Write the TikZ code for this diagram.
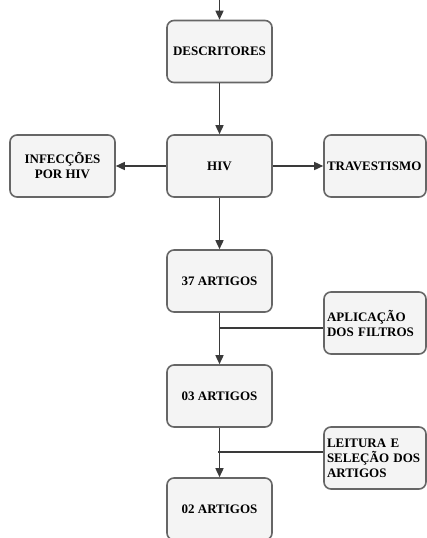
\documentclass[tikz,border=0pt]{standalone}
\usepackage{fontspec}
\setmainfont{Liberation Serif}
\usepackage{xcolor}
\usetikzlibrary{arrows.meta,positioning,calc}
\definecolor{boxfill}{HTML}{F4F4F4}
\definecolor{boxline}{HTML}{666666}
\definecolor{arrowline}{HTML}{3A3A3A}
\tikzset{
    box/.style={draw=boxline, fill=boxfill, line width=1.6pt, rounded corners=7pt,
        minimum width=105pt, minimum height=62pt, inner sep=3pt,
        font=\bfseries\fontsize{13}{15}\selectfont, text=black},
    sidebox/.style={box, minimum width=102pt, text width=96pt, align=left},
    link/.style={arrowline, line width=1.5pt},
    flow/.style={link, -{Triangle[width=8pt,length=9pt]}}
}
\begin{document}
\begin{tikzpicture}[x=1pt, y=-1pt]
    \useasboundingbox (0,0) rectangle (426,538);

    % Main column
    \node[box] (desc) at (219.5,51.5) {DESCRITORES};
    \node[box] (hiv) at (219.5,166) {HIV};
    \node[box] (a37) at (219.5,281) {37 ARTIGOS};
    \node[box] (a03) at (219.5,396) {03 ARTIGOS};
    \node[box] (a02) at (219.5,509) {02 ARTIGOS};

    % Side boxes
    \node[box, align=center] (infec) at (62.5,166) {INFECÇÕES\\POR HIV};
    \node[sidebox] (trav) at (375,166) {TRAVESTISMO};
    \node[sidebox] (filt) at (375,323) {APLICAÇÃO\\DOS FILTROS};
    \node[sidebox] (leit) at (375,458) {LEITURA E\\SELEÇÃO DOS\\ARTIGOS};

    % Arrows
    \coordinate (top) at (219.5,0);
    \draw[flow] (top) -- (desc);
    \draw[flow] (desc) -- (hiv);
    \draw[flow] (hiv) -- (infec);
    \draw[flow] (hiv) -- (trav);
    \draw[flow] (hiv) -- (a37);
    \draw[flow] (a37) -- (a03);
    \draw[flow] (a03) -- (a02);

    % Filter steps joining the flow
    \coordinate (j1) at (219.5,328);
    \coordinate (j2) at (218,452);
    \draw[link] (j1) -- (j1 -| filt.west);
    \draw[link] (j2) -- (j2 -| leit.west);
\end{tikzpicture}
\end{document}
